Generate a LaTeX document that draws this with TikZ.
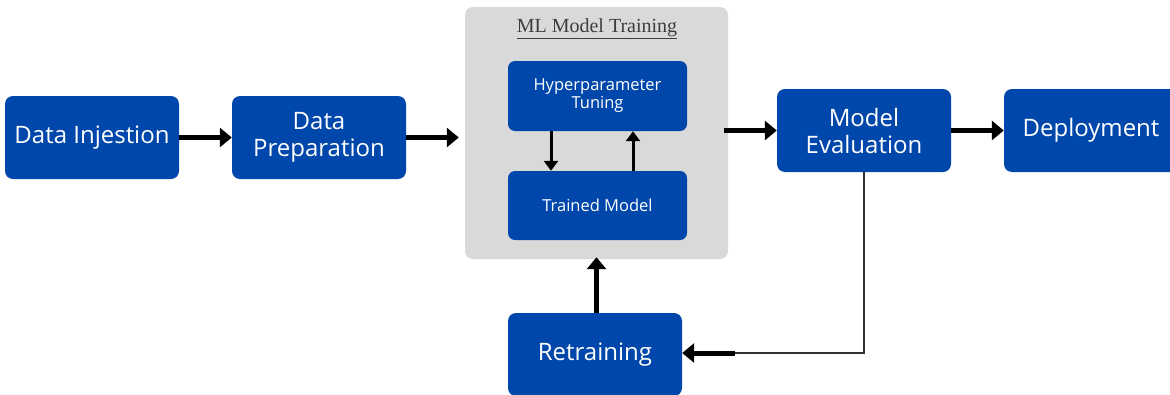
\documentclass[tikz,border=0pt]{standalone}
\usepackage{fontspec}
\setmainfont{Open Sans}
\newfontfamily\titlefont{Liberation Serif}
\usetikzlibrary{arrows.meta,positioning}
\definecolor{boxblue}{RGB}{0,71,171}
\definecolor{panelgray}{RGB}{217,217,217}
\definecolor{titlegray}{RGB}{64,60,60}
\definecolor{linegray}{RGB}{50,50,50}
\tikzset{
  stage/.style={fill=boxblue, rounded corners=8pt, text=white, align=center,
    minimum width=174pt, minimum height=83pt, inner sep=0pt,
    font=\fontsize{24}{27}\selectfont},
  substage/.style={fill=boxblue, rounded corners=7pt, text=white, align=center,
    minimum width=179pt, minimum height=70pt, inner sep=0pt,
    font=\fontsize{16.5}{18}\selectfont},
  panel/.style={fill=panelgray, rounded corners=8pt, minimum width=263pt,
    minimum height=252pt, inner sep=0pt},
  flow/.style={line width=5pt, -{Triangle[width=19pt,length=12pt]}},
  innerflow/.style={line width=3pt, -{Triangle[width=14pt,length=10pt]}},
  feedback/.style={line width=1.8pt, draw=linegray}
}
\begin{document}
\begin{tikzpicture}[x=1pt,y=-1pt]
\clip (0,0) rectangle (1170,394);
\fill[white] (0,0) rectangle (1170,394);

% training panel with its two inner steps
\node[panel] (train) at (596.5,133) {};
\node[titlegray, font=\titlefont\fontsize{20}{22}\selectfont] (ttl) at (597,29) {\underline{ML Model Training}};
\node[substage] (hyper) at (597.5,96) {Hyperparameter\\Tuning};
\node[substage, minimum height=69pt] (trained) at (597.5,205.5) {Trained Model};

% pipeline stages
\node[stage] (inj) at (92,137.5) {Data Injestion};
\node[stage] (prep) at (319,137.5) {Data\\Preparation};
\node[stage] (eval) at (864,130.5) {Model\\Evaluation};
\node[stage] (deploy) at (1091,130.5) {Deployment};
\node[stage] (retrain) at (595,354.5) {Retraining};

% forward flow
\draw[flow] (inj.east) -- (prep.west);
\draw[flow, shorten >=6pt] (prep.east) -- (train.west |- prep.east);
\draw[flow, shorten <=-4pt] (train.east |- eval.west) -- (eval.west);
\draw[flow] (eval.east) -- (deploy.west);

% tuning loop
\draw[innerflow] ([xshift=-46.5pt]hyper.south) -- ([xshift=-46.5pt]trained.north);
\draw[innerflow] ([xshift=35.5pt]trained.north) -- ([xshift=35.5pt]hyper.south);

% retraining loop
\coordinate (fbk) at (735,353);
\draw[feedback] (eval.south) |- (fbk);
\draw[flow] (fbk) -- (retrain.east |- fbk);
\draw[flow] (retrain.north -| train.south) -- ([yshift=2pt]train.south);
\end{tikzpicture}
\end{document}
